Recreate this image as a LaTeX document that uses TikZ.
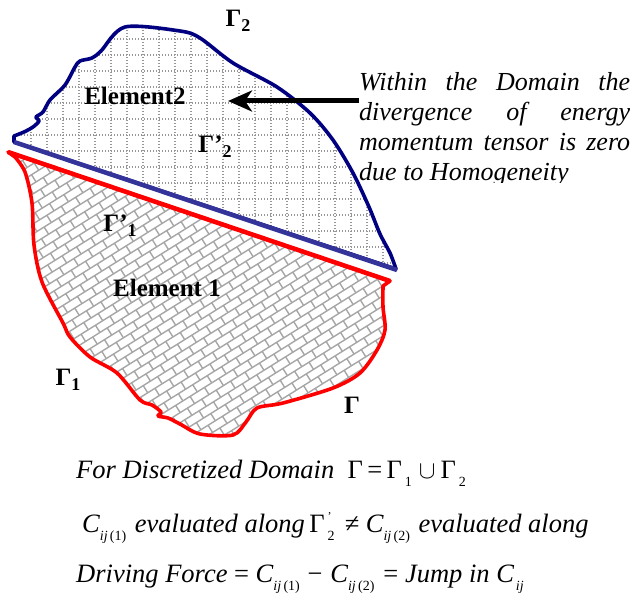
\documentclass[tikz,border=0pt]{standalone}
\usepackage{fontspec}
\setmainfont{Liberation Serif}
\usetikzlibrary{arrows.meta}
\definecolor{rimnavy}{RGB}{0,0,128}
\definecolor{cutblue}{RGB}{51,51,153}
\definecolor{rimred}{RGB}{255,0,0}
\definecolor{hatchgray}{RGB}{150,150,150}
\newcommand{\lowsub}[1]{\raisebox{-8pt}{\fontsize{14}{14}\selectfont\upshape #1}}
\newcommand{\lowprime}[1]{\rlap{\raisebox{12pt}{\fontsize{12}{12}\selectfont\upshape '}}\lowsub{#1}}
\newcommand{\lbsub}[1]{\raisebox{-5pt}{\fontsize{18}{18}\selectfont #1}}
\newcommand{\upG}{{\upshape Γ}}

\begin{document}
\begin{tikzpicture}[x=1pt,y=-1pt,
  lbl/.style={font=\fontsize{25}{25}\selectfont\bfseries,inner sep=0pt},
  note/.style={font=\fontsize{26}{30}\selectfont\itshape,inner sep=0pt},
  eqline/.style={font=\fontsize{26.5}{30}\selectfont\itshape,inner sep=0pt,anchor=base west},
  gridline/.style={hatchgray,line width=1.4pt,dash pattern=on 1.4pt off 1.6pt},
  brickline/.style={hatchgray!85,line width=1.4pt},
  rimtwo/.style={rimnavy,line width=3.6pt,line join=round,line cap=round},
  rimone/.style={rimred,line width=3.6pt,line join=round,line cap=round},
  cutline/.style={line width=4.5pt},
  pointer/.style={line width=5pt,-{Stealth[length=24pt,width=21pt,inset=7pt]}}]
\useasboundingbox (0,0) rectangle (631,596);
\coordinate (blueL) at (14,142);
\coordinate (blueR) at (397,270);
\coordinate (redL) at (8,152);
\coordinate (redR) at (390,281);

\draw[rimtwo,preaction={path picture={
    \foreach \k in {0,...,24} \draw[gridline] ({15+16*\k},0) -- ++(0,300);
    \foreach \k in {0,...,18} \draw[gridline] (0,{7+16*\k}) -- ++(420,0);}}]
  (blueL) -- plot[smooth,tension=.5] coordinates {(14,136) (24,132) (33,127) (39,121) (36,117) (43,112) (50,100) (65,85) (75,67) (80,61) (92,58) (101,51) (125,27) (180,31) (200,38) (233,63) (277,87) (310,113) (333,140) (353,173) (369,207) (380,234) (390,253) (396,269)} -- cycle;

\draw[rimone,preaction={path picture={
    \begin{scope}[shift={(200,300)},rotate=32]
      \foreach \r in {-32,...,32}
        \draw[brickline] (-300,{8.5*\r}) -- (300,{8.5*\r})
          \foreach \c in {-18,...,18} {({17*\c+8.5*mod(\r+100,2)},{8.5*\r}) -- ++(0,8.5)};
    \end{scope}}}]
  (redL) -- (redR) -- plot[smooth,tension=.5] coordinates {(383,286) (383,307) (385,330) (377,350) (360,373) (333,388) (283,403) (257,408) (246,422) (233,435) (200,434) (180,424) (168,418) (158,416) (161,412) (152,405) (140,400) (117,373) (90,357) (70,337) (63,323) (42,282) (34,245) (32,203) (25,172) (15,157)} -- cycle;

\draw[cutline,rimred] (redL) -- (redR);
\draw[cutline,cutblue] (blueL) -- (blueR);

\node[lbl] (gtwo) at (238,21) {Γ\lbsub{2}};
\node[lbl] (elemtwo) at (135,96) {Element2};
\node[lbl] (gtwoprime) at (215,147) {Γ’\lbsub{2}};
\node[lbl] (goneprime) at (120,226) {Γ’\lbsub{1}};
\node[lbl] (elemone) at (167,288) {Element 1};
\node[lbl] (gone) at (68,380) {Γ\lbsub{1}};
\node[lbl] (gall) at (352,405) {Γ};

\begin{scope}
  \clip (340,40) rectangle (631,182);
  \node[note,anchor=base west] (note) at (359,91) {\parbox[t]{271pt}{%
    \makebox[271pt][s]{Within the Domain the}\\
    \makebox[271pt][s]{divergence of energy}\\
    \makebox[271pt][s]{momentum tensor is zero}\\
    due to Homogeneity}};
\end{scope}
\coordinate (tip) at (228,101);
\draw[pointer] (note.west |- tip) -- (tip);

\node[eqline] (eqdomain) at (76,478) {For Discretized Domain\ \ \upG\,{\upshape =}\,\upG\hspace{3pt}\lowsub{1}\hspace{7pt}$\cup$\hspace{5pt}\upG\hspace{3pt}\lowsub{2}};
\node[eqline] (eqalong) at (82,532) {C\lowsub{\textit{ij}\,(1)}\hspace{2pt} evaluated along\,\upG\hspace{3pt}\lowprime{2}\hspace{10pt}≠ C\lowsub{\textit{ij}\,(2)}\hspace{2pt} evaluated along};
\node[eqline] (eqforce) at (76,582) {Driving Force {\upshape =} C\lowsub{\textit{ij}\,(1)}\hspace{6pt}− C\lowsub{\textit{ij}\,(2)}\hspace{9pt}{\upshape =} Jump in C\hspace{2pt}\lowsub{\textit{ij}}};
\end{tikzpicture}
\end{document}
